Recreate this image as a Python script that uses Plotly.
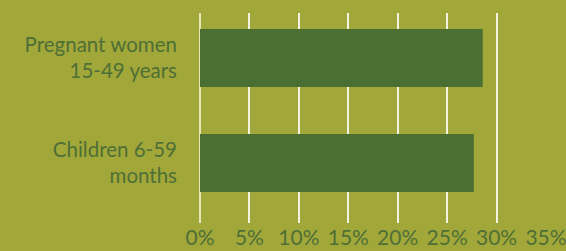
import plotly.graph_objects as go

categories = ["Children 6-59<br>months", "Pregnant women<br>15-49 years"]
values = [0.277, 0.286]
x_ticks = [0, 0.05, 0.10, 0.15, 0.20, 0.25, 0.30, 0.35]

bg = "#a2a73a"
bar_color = "#4b6e33"
text_color = "#4e6f35"

fig = go.Figure(go.Bar(
    x=values, y=categories, orientation="h",
    marker=dict(color=bar_color, line=dict(width=0)),
    width=0.552,
))

fig.update_layout(
    width=566, height=251,
    margin=dict(l=200, r=20, t=13, b=28, autoexpand=False),
    paper_bgcolor=bg, plot_bgcolor=bg,
    font=dict(family="Lato", size=21, color=text_color),
    showlegend=False,
    xaxis=dict(
        range=[0, 0.35], tickvals=x_ticks, tickformat=".0%",
        showgrid=True, gridcolor="rgba(255,255,255,0.85)", gridwidth=1.5,
        zeroline=True, zerolinecolor="rgba(235,238,200,0.9)", zerolinewidth=1.5,
        showline=False, ticks="", fixedrange=True, automargin=False,
        ticklabelstandoff=0, ticklabeloverflow="allow",
    ),
    yaxis=dict(
        type="category", range=[-0.5714, 1.4286],
        showgrid=False, zeroline=False, showline=False, ticks="",
        ticklabelstandoff=22, automargin=False, fixedrange=True,
        tickfont=dict(size=20.5),
    ),
)

fig.write_html(
    "out.html",
    config={"displayModeBar": False},
    post_script="document.body.style.margin='0';document.body.style.background='%s';" % bg,
)
